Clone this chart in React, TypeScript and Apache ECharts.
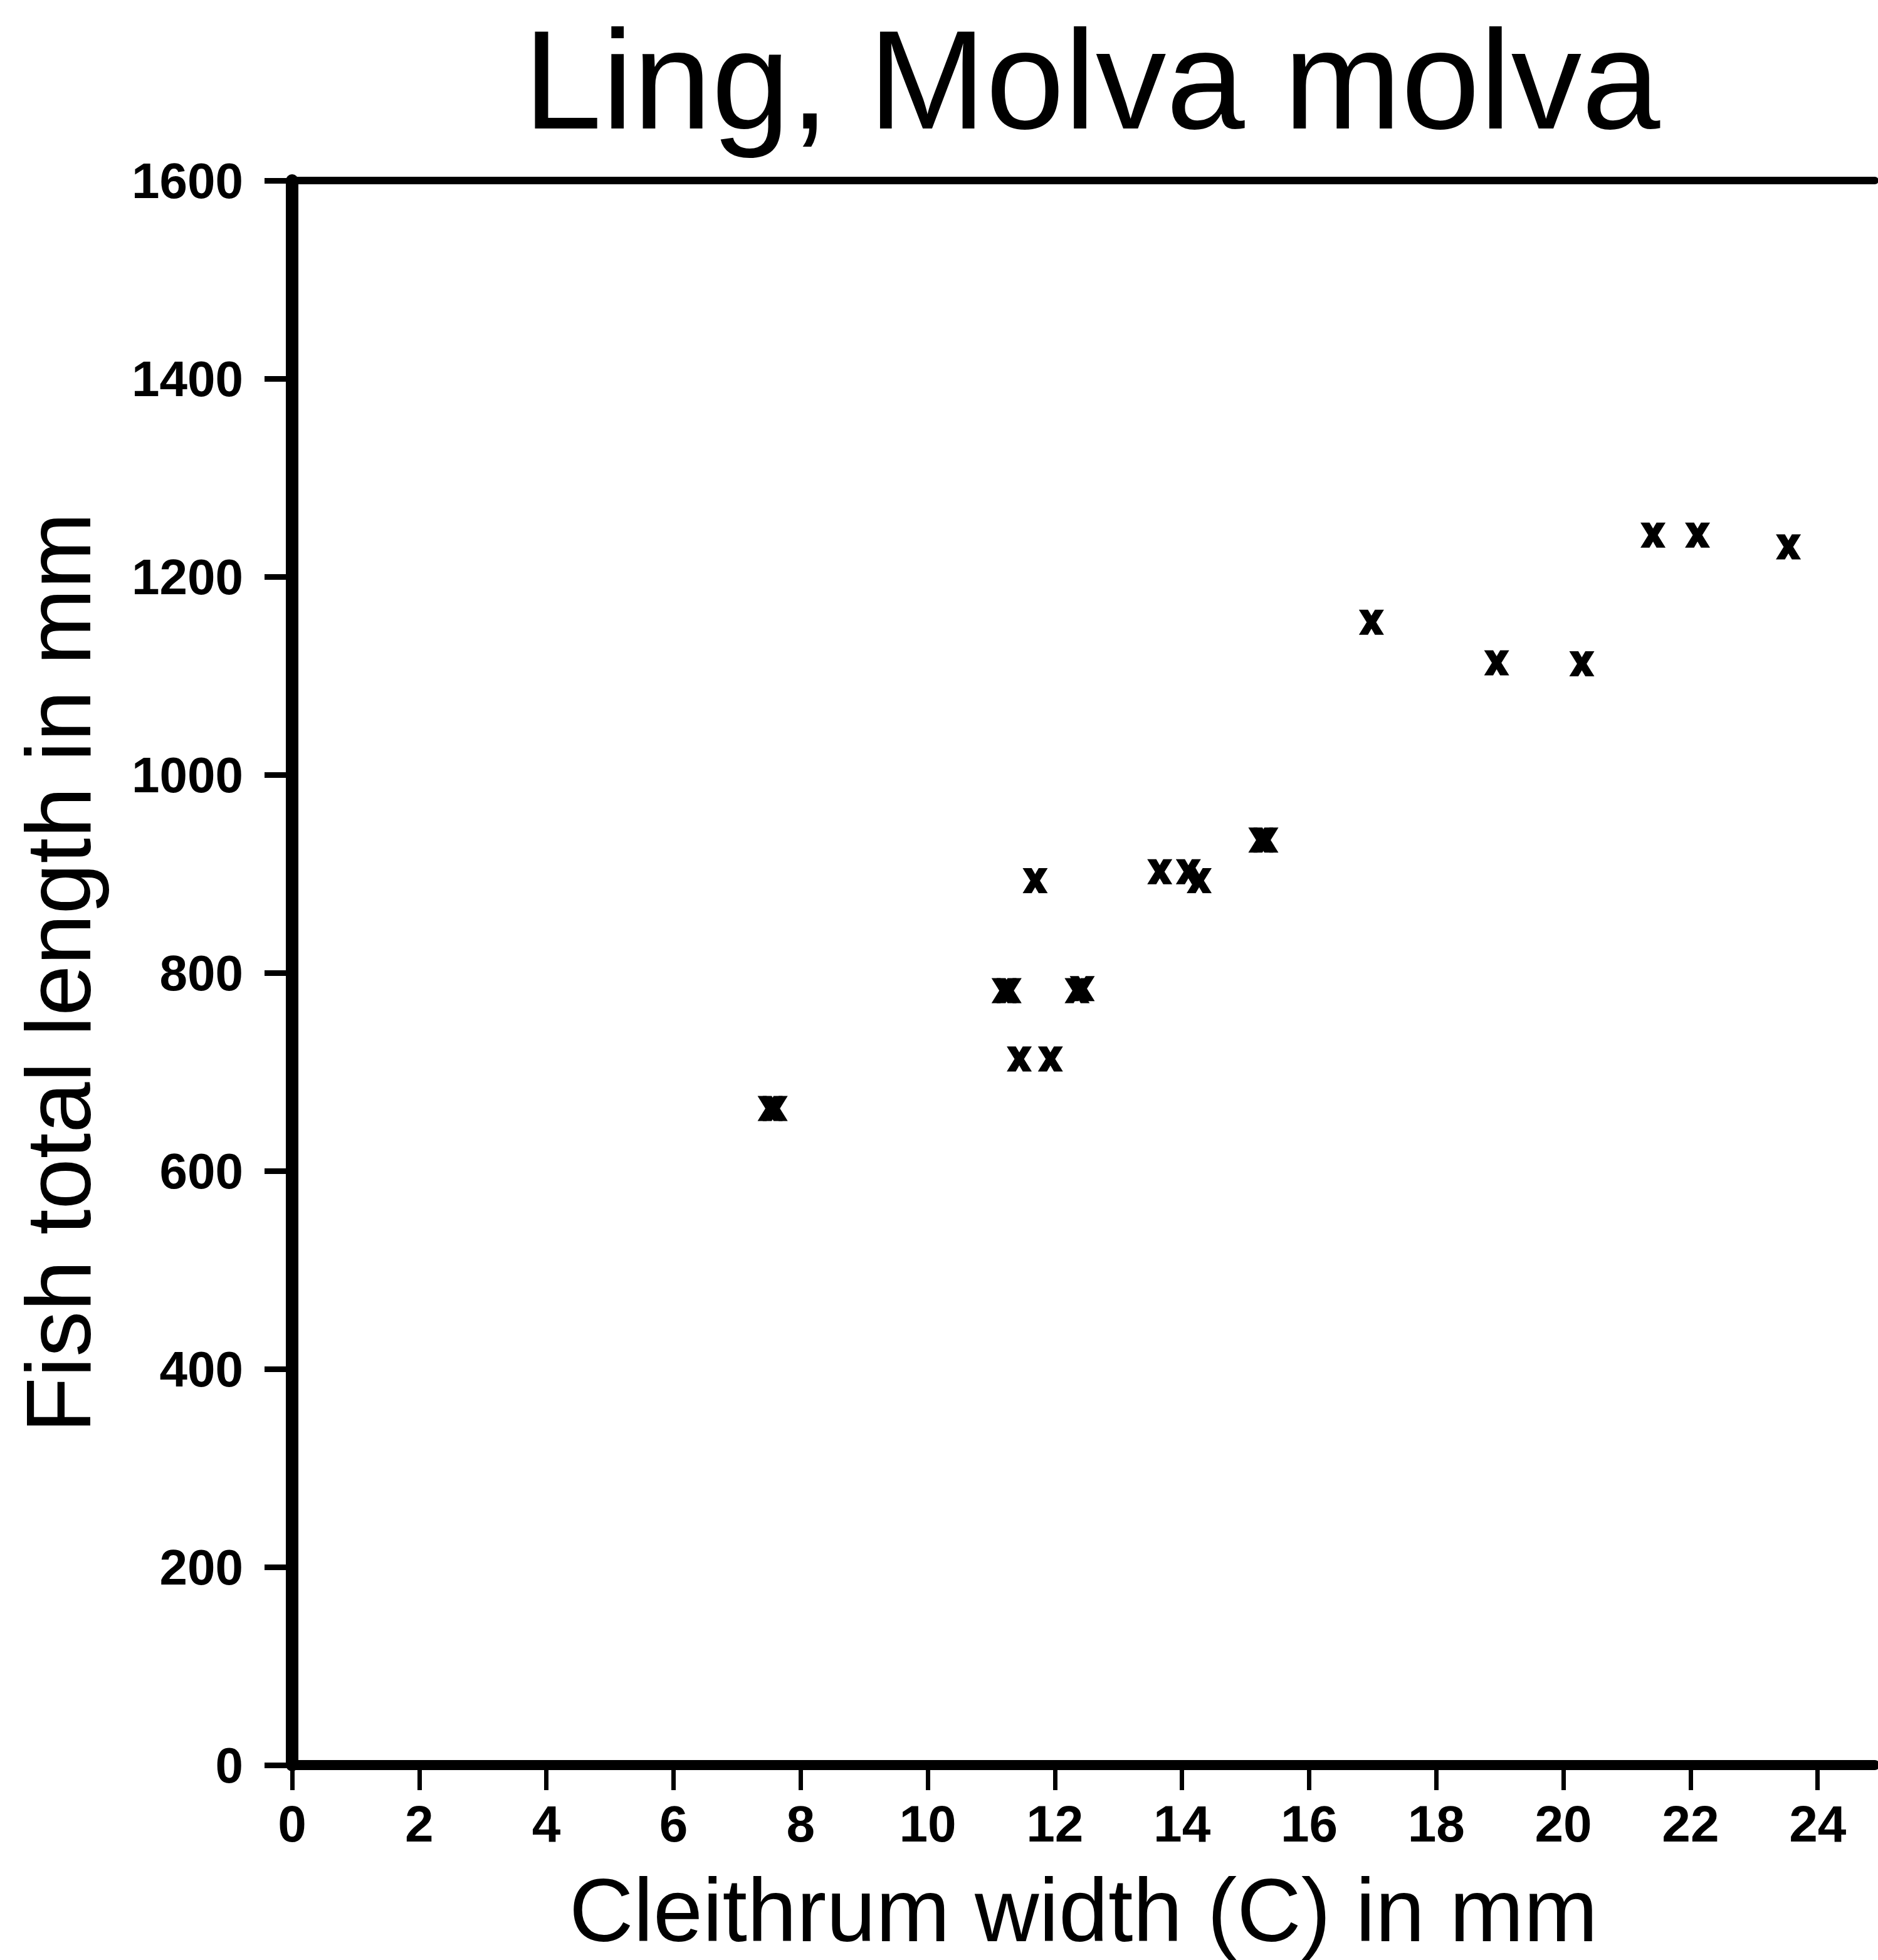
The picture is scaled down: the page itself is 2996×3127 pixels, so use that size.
import React, { useEffect, useRef } from "react";
import * as echarts from "echarts";

const chartTitle = "Ling, Molva molva";
const xAxisTitle = "Cleithrum width (C) in mm";
const yAxisTitle = "Fish total length in mm";

// Cleithrum width (mm) and fish total length (mm)
const cleithrumWidth = [
  7.52, 7.6, 11.2, 11.28, 12.35, 12.43, 11.44, 11.93, 11.69, 13.65, 14.1, 14.27,
  15.24, 15.32, 16.98, 18.95, 20.29, 21.41, 22.11, 23.54,
];
const fishLength = [
  663, 663, 782, 782, 782, 784, 713, 713, 893, 902, 902, 893,
  934, 934, 1154, 1113, 1112, 1242, 1242, 1230,
];

const xMin = 0;
const xMax = 24.9;
const xInterval = 2;
const yMin = 0;
const yMax = 1600;
const yInterval = 200;

const FONT = "Liberation Sans";
const CROSS =
  "path://M0,0L3.6,0L5,2.4L6.4,0L10,0L6.9,5L10,10L6.4,10L5,7.6L3.6,10L0,10L3.1,5Z";

export default function App() {
  const ref = useRef<HTMLDivElement>(null);
  useEffect(() => {
    if (!ref.current) return;
    const chart = echarts.init(ref.current, null, { renderer: "svg" });
    const points = cleithrumWidth.map((x, i) => [x, fishLength[i]]);
    chart.setOption({
      animation: false,
      backgroundColor: "#ffffff",
      title: {
        text: chartTitle,
        left: 835,
        top: 14,
        textStyle: {
          fontFamily: FONT,
          fontSize: 225,
          lineHeight: 225,
          fontWeight: "normal",
          color: "#000",
        },
        padding: 0,
      },
      grid: { left: 466, right: 5, top: 288, bottom: 311 },
      xAxis: [
        {
          type: "value",
          min: xMin,
          max: xMax,
          interval: xInterval,
          name: xAxisTitle,
          nameLocation: "middle",
          nameGap: 160,
          nameTextStyle: {
            fontFamily: FONT,
            fontSize: 142,
            lineHeight: 142,
            color: "#000",
          },
          axisLine: { show: true, onZero: false, lineStyle: { color: "#000", width: 16 } },
          axisTick: { show: true, inside: false, length: 40, lineStyle: { color: "#000", width: 7 } },
          axisLabel: {
            fontFamily: FONT,
            fontWeight: "bold",
            fontSize: 82,
            color: "#000",
            margin: 52,
            showMaxLabel: false,
          },
          splitLine: { show: false },
        },
        {
          type: "value",
          position: "top",
          min: xMin,
          max: xMax,
          interval: xInterval,
          axisLine: { show: true, onZero: false, lineStyle: { color: "#000", width: 12 } },
          axisTick: { show: false },
          axisLabel: { show: false },
          splitLine: { show: false },
        },
      ],
      yAxis: {
        type: "value",
        min: yMin,
        max: yMax,
        interval: yInterval,
        name: yAxisTitle,
        nameLocation: "middle",
        nameGap: 300,
        nameTextStyle: {
          fontFamily: FONT,
          fontSize: 146,
          color: "#000",
        },
        axisLine: { show: true, onZero: false, lineStyle: { color: "#000", width: 20 } },
        axisTick: { show: true, inside: false, length: 44, lineStyle: { color: "#000", width: 9 } },
        axisLabel: {
          fontFamily: FONT,
          fontWeight: "bold",
          fontSize: 80,
          color: "#000",
          margin: 78,
          formatter: (v: number) => String(v),
        },
        splitLine: { show: false },
      },
      series: [
        {
          type: "scatter",
          data: points,
          symbol: CROSS,
          symbolSize: [40, 40],
          itemStyle: { color: "#000", opacity: 1 },
        },
      ],
    });
    return () => chart.dispose();
  }, []);
  return (
    <div
      ref={ref}
      style={{ position: "absolute", left: 0, top: 0, width: 2996, height: 3127, background: "#fff" }}
    />
  );
}
